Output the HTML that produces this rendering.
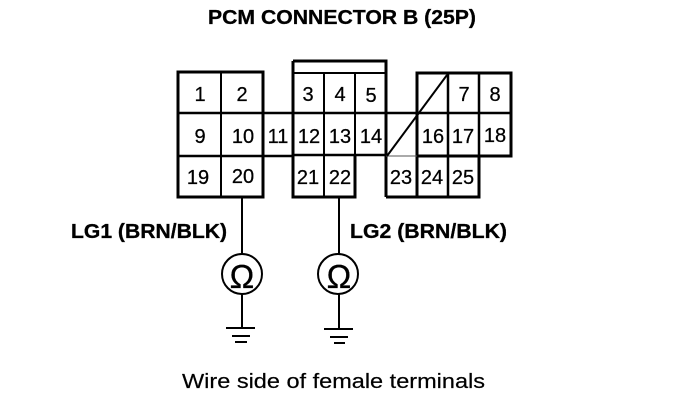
<!DOCTYPE html>
<html><head><meta charset="utf-8"><style>
html,body{margin:0;padding:0;background:#fff}
svg{display:block}
text{font-family:"Liberation Sans",sans-serif;fill:#000}
.n{font-size:20px;text-anchor:middle;stroke:#000;stroke-width:.25}
.b{font-size:20px;font-weight:bold;stroke:#000;stroke-width:.3}
.o{font-size:33px;text-anchor:middle;stroke:#000;stroke-width:.3}
</style></head><body>
<svg width="688" height="412" viewBox="0 0 688 412" xmlns="http://www.w3.org/2000/svg">
<g fill="none" stroke="#000" stroke-width="3">
<path d="M178 72H263V197H178Z"/>
<path d="M293 61H386V155M293 61V197H355V155"/>
<path d="M293 73H386" stroke-width="2"/>
<path d="M417 113V73H511V156H417M386 197H479V156M386 155V197M417 113V197"/>
<path d="M178 113H293M178 156H293M263 113H511M293 155H386M448 73V197M479 73V156" stroke-width="2.5"/>
<path d="M221 72V197M324 73V197M355 73V155M386 113V155" stroke-width="2"/>
<path d="M386 156H417" stroke-width="1" stroke="#555"/>
<path d="M447 75L387 156" stroke-width="2"/>
<path d="M242 197V255M242 294V328M339 197V255M339 294V329" stroke-width="2"/>
<circle cx="242" cy="274" r="20" stroke-width="2"/>
<circle cx="338" cy="274" r="20" stroke-width="2"/>
<path d="M226 328H255M232 336H250M235 342H247M324 329H353M330 337H348M334 343H345" stroke-width="2"/>
</g>
<text x="208" y="24" class="b" textLength="268" lengthAdjust="spacingAndGlyphs">PCM CONNECTOR B (25P)</text>
<g>
<text class="n" x="200" y="101">1</text><text class="n" x="242" y="101">2</text><text class="n" x="308" y="101">3</text><text class="n" x="340" y="101">4</text><text class="n" x="371" y="102">5</text><text class="n" x="464" y="101">7</text><text class="n" x="495" y="101">8</text>
<text class="n" x="200" y="143">9</text><text class="n" x="243" y="143">10</text><text class="n" x="278" y="143">11</text><text class="n" x="309" y="143">12</text><text class="n" x="340" y="143">13</text><text class="n" x="371" y="143">14</text><text class="n" x="433" y="143">16</text><text class="n" x="463" y="143">17</text><text class="n" x="495" y="142">18</text>
<text class="n" x="198" y="184">19</text><text class="n" x="243" y="183">20</text><text class="n" x="308" y="184">21</text><text class="n" x="340" y="184">22</text><text class="n" x="401" y="184">23</text><text class="n" x="432" y="184">24</text><text class="n" x="463" y="184">25</text>
</g>
<text x="71" y="238" class="b" textLength="156" lengthAdjust="spacingAndGlyphs">LG1 (BRN/BLK)</text>
<text x="350" y="238" class="b" textLength="157" lengthAdjust="spacingAndGlyphs">LG2 (BRN/BLK)</text>
<text class="o" x="242" y="288">Ω</text>
<text class="o" x="339" y="288">Ω</text>
<text x="182" y="388" style="font-size:20.5px;stroke:#000;stroke-width:.2" textLength="303" lengthAdjust="spacingAndGlyphs">Wire side of female terminals</text>
</svg>
</body></html>
